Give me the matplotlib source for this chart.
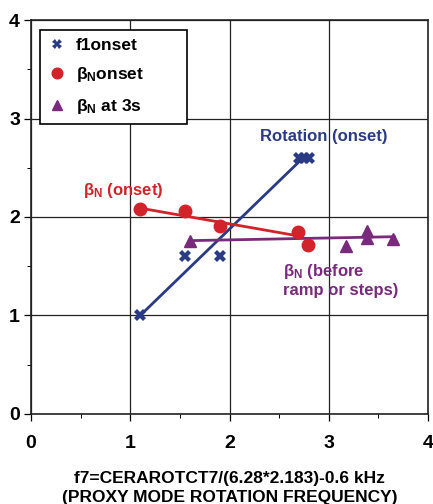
import matplotlib.pyplot as plt
from matplotlib.ticker import MultipleLocator

# f1 onset (x markers)
f1_x = [1.1, 1.55, 1.9, 2.7, 2.75, 2.8]
f1_y = [1.0, 1.6, 1.6, 2.6, 2.6, 2.6]
f1_fit_x = [1.1, 2.72]
f1_fit_y = [1.0, 2.58]

# beta_N onset (circles)
bn_x = [1.1, 1.55, 1.9, 2.69, 2.79]
bn_y = [2.08, 2.06, 1.91, 1.85, 1.72]
bn_fit_x = [1.1, 2.68]
bn_fit_y = [2.09, 1.81]

# beta_N at 3s (triangles)
b3_x = [1.6, 3.17, 3.38, 3.38, 3.65]
b3_y = [1.76, 1.71, 1.86, 1.79, 1.78]
b3_fit_x = [1.6, 3.66]
b3_fit_y = [1.76, 1.80]

blue = "#2b3a85"
red = "#d2232a"
purple = "#7a2a7c"

plt.rcParams['font.family'] = ['Liberation Sans', 'DejaVu Sans']
plt.rcParams['font.weight'] = 'bold'
plt.rcParams['axes.labelweight'] = 'bold'
plt.rcParams['mathtext.default'] = 'regular'

fig = plt.figure(figsize=(4.33, 5.04), dpi=100)
ax = fig.add_axes([0.0716, 0.1786, 0.917, 0.7817])

ax.plot(f1_fit_x, f1_fit_y, color=blue, lw=2)
ax.plot(bn_fit_x, bn_fit_y, color=red, lw=2)
ax.plot(b3_fit_x, b3_fit_y, color=purple, lw=2)

ax.plot(f1_x, f1_y, ls='none', marker='X', ms=8, color=blue, mew=0, label='f1onset')
ax.plot(bn_x, bn_y, ls='none', marker='o', ms=9, color=red, label='β$_{N}$onset')
ax.plot(b3_x, b3_y, ls='none', marker='^', ms=9, color=purple, label='β$_{N}$ at 3s')

ax.text(2.95, 2.82, 'Rotation (onset)', color=blue, fontsize=12, ha='center', va='center')
ax.text(0.93, 2.27, 'β$_{N}$ (onset)', color=red, fontsize=12, ha='center', va='center')
ax.text(2.54, 1.36, 'β$_{N}$ (before\nramp or steps)', color=purple, fontsize=12,
        ha='left', va='center', linespacing=1.1)

ax.set_xlim(0, 4)
ax.set_ylim(0, 4)
ax.xaxis.set_major_locator(MultipleLocator(1))
ax.yaxis.set_major_locator(MultipleLocator(1))
ax.xaxis.set_minor_locator(MultipleLocator(0.5))
ax.yaxis.set_minor_locator(MultipleLocator(0.5))
ax.grid(True, which='major', color='#222222', lw=0.9)
ax.tick_params(which='major', length=5, width=0.9, labelsize=14, pad=3)
ax.tick_params(axis='x', which='major', pad=10)
ax.tick_params(which='minor', length=3, width=0.7)
for s in ax.spines.values():
    s.set_linewidth(1.2)
    s.set_color('#222222')

ax.set_xlabel('f7=CERAROTCT7/(6.28*2.183)-0.6 kHz\n(PROXY MODE ROTATION FREQUENCY)',
              fontsize=12.5, labelpad=14, linespacing=1.35)

leg = ax.legend(loc='upper left', bbox_to_anchor=(0.0227, 0.975, 0.37, 0.0), mode='expand',
                fontsize=12.5, frameon=True, fancybox=False, edgecolor='black', framealpha=1,
                handlelength=1.0, handletextpad=0.6, borderpad=0.45, labelspacing=0.72,
                markerscale=0.85, borderaxespad=0)
leg.get_frame().set_linewidth(1.2)

fig.savefig('out.png', dpi=100)
